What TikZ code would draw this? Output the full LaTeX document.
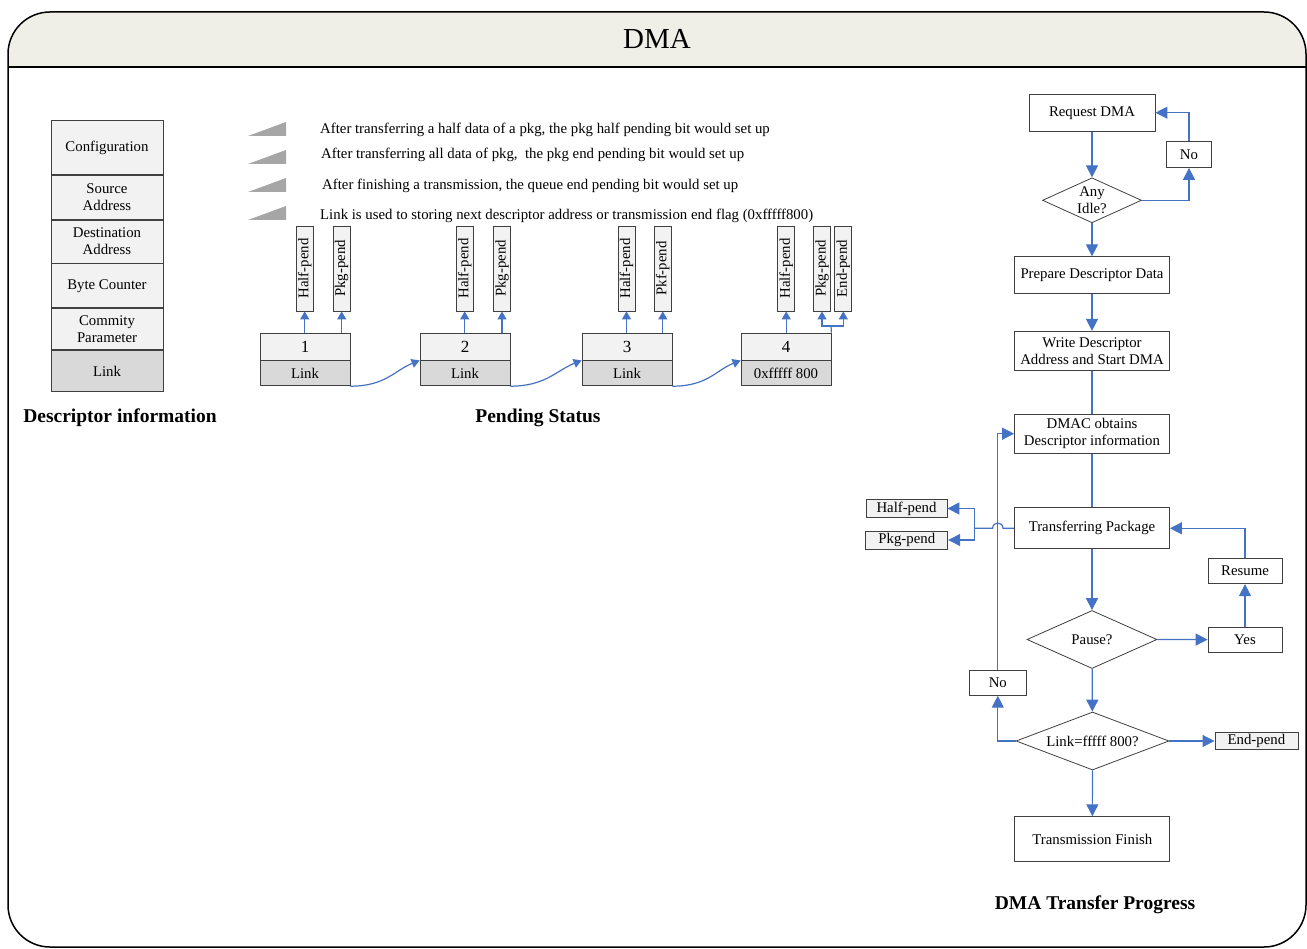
\documentclass[tikz,border=0pt]{standalone}
\usepackage{fontspec}
\setmainfont{Liberation Serif}
\usetikzlibrary{positioning}
\usetikzlibrary{arrows.meta}
\usetikzlibrary{shapes.geometric}

\definecolor{lineblue}{RGB}{68,114,196}
\definecolor{boxgray}{RGB}{242,242,242}
\definecolor{linkgray}{RGB}{217,217,217}
\definecolor{headfill}{RGB}{239,239,232}
\definecolor{edgegray}{RGB}{64,64,64}
\definecolor{wedgegray}{RGB}{166,166,166}

\tikzset{
    cell/.style={draw=edgegray, line width=0.8pt, fill=boxgray, minimum width=112pt, inner sep=0pt, align=center},
    numbox/.style={draw=edgegray, line width=0.8pt, fill=boxgray, minimum width=90pt, minimum height=27pt, inner sep=0pt,
        font=\fontsize{17pt}{19pt}\selectfont},
    linkbox/.style={draw=edgegray, line width=0.8pt, fill=linkgray, minimum width=90pt, minimum height=25pt, inner sep=0pt},
    pendbox/.style={draw=edgegray, line width=0.8pt, fill=boxgray, minimum width=17pt, minimum height=85pt, inner sep=0pt},
    fbox/.style={draw=edgegray, line width=0.8pt, fill=white, inner sep=0pt, align=center},
    gbox/.style={draw=edgegray, line width=0.8pt, fill=boxgray, inner sep=0pt, minimum height=18pt},
    decide/.style={draw=edgegray, line width=0.8pt, diamond, inner sep=0pt, align=center},
    note/.style={anchor=west, inner sep=0pt},
    heading/.style={font=\bfseries\fontsize{19.5pt}{22pt}\selectfont},
    line/.style={draw=lineblue, line width=1.2pt},
    flow/.style={line, -{Triangle[length=12pt,width=12pt]}},
    smallflow/.style={line, -{Triangle[length=8pt,width=9pt]}},
}

\begin{document}
\begin{tikzpicture}[x=1pt, y=-1pt, font=\fontsize{14.8pt}{17pt}\selectfont]
    \useasboundingbox (0,0) rectangle (1307,949);

    % frame and header
    \fill[headfill, rounded corners=45pt] (8,67) -- (8,12) -- (1306,12) -- (1306,67);
    \draw[line width=1.5pt, rounded corners=42pt] (8,12) rectangle (1306,947);
    \draw[line width=1.5pt] (8,67) -- (1306,67);
    \node(title) at (657,39) {\fontsize{29pt}{32pt}\selectfont DMA};

    % descriptor information
    \node(cfg) [cell, minimum height=54pt, anchor=north] at (107,120) {Configuration};
    \node(src) [cell, minimum height=44pt, below=0pt of cfg] {Source\\Address};
    \node(dst) [cell, minimum height=43pt, below=0pt of src] {Destination\\Address};
    \node(cnt) [cell, minimum height=44pt, below=0pt of dst] {Byte Counter};
    \node(cpar) [cell, minimum height=41pt, below=0pt of cnt] {Commity\\Parameter};
    \node(lnk) [cell, fill=linkgray, minimum height=41pt, below=0pt of cpar] {Link};
    \node(dtitle) [heading] at (120,418) {Descriptor information};

    % notes
    \fill[wedgegray] (248,136) -- (286,122) -- (286,136) -- cycle;
    \fill[wedgegray] (248,164) -- (286,150) -- (286,164) -- cycle;
    \fill[wedgegray] (248,192) -- (286,178) -- (286,192) -- cycle;
    \fill[wedgegray] (248,220) -- (286,206) -- (286,220) -- cycle;
    \node(t1) [note] at (320,129.5) {After transferring a half data of a pkg, the pkg half pending bit would set up};
    \node(t2) [note] at (321,154.5) {After transferring all data of pkg,~ the pkg end pending bit would set up};
    \node(t3) [note] at (322,185.5) {After finishing a transmission, the queue end pending bit would set up};
    \node(t4) [note] at (320,215.5) {Link is used to storing next descriptor address or transmission end flag (0xfffff800)};

    % pending status
    \node(num1) [numbox] at (305,346.5) {1};
    \node(lk1) [linkbox, below=0pt of num1] {Link};
    \node(num2) [numbox] at (465,346.5) {2};
    \node(lk2) [linkbox, below=0pt of num2] {Link};
    \node(num3) [numbox] at (627,346.5) {3};
    \node(lk3) [linkbox, below=0pt of num3] {Link};
    \node(num4) [numbox] at (786,346.5) {4};
    \node(lk4) [linkbox, below=0pt of num4] {0xfffff 800};

    \node(h1) [pendbox] at (304.7,268.5) {\rotatebox{90}{Half-pend}};
    \node(p1) [pendbox] at (341.7,268.5) {\rotatebox{90}{Pkg-pend}};
    \node(h2) [pendbox] at (464.7,268.5) {\rotatebox{90}{Half-pend}};
    \node(p2) [pendbox] at (502,268.5) {\rotatebox{90}{Pkg-pend}};
    \node(h3) [pendbox] at (626.5,268.5) {\rotatebox{90}{Half-pend}};
    \node(p3) [pendbox] at (662.8,268.5) {\rotatebox{90}{Pkf-pend}};
    \node(h4) [pendbox] at (786.2,268.5) {\rotatebox{90}{Half-pend}};
    \node(p4) [pendbox] at (822,268.5) {\rotatebox{90}{Pkg-pend}};
    \node(e4) [pendbox] at (843.3,268.5) {\rotatebox{90}{End-pend}};

    \draw[smallflow] (h1.south |- num1.north) -- (h1.south);
    \draw[smallflow] (p1.south |- num1.north) -- (p1.south);
    \draw[smallflow] (h2.south |- num2.north) -- (h2.south);
    \draw[smallflow] (p2.south |- num2.north) -- (p2.south);
    \draw[smallflow] (h3.south |- num3.north) -- (h3.south);
    \draw[smallflow] (p3.south |- num3.north) -- (p3.south);
    \draw[smallflow] (h4.south |- num4.north) -- (h4.south);
    \coordinate(j4) at (831,326);
    \draw[line] (num4.north east) -- (j4);
    \draw[smallflow] (j4) -| (p4.south);
    \draw[smallflow] (j4) -| (e4.south);

    \draw[smallflow] (lk1.south east) .. controls +(35,0) and +(-25,10) .. (num2.south west);
    \draw[smallflow] (lk2.south east) .. controls +(35,0) and +(-25,10) .. (num3.south west);
    \draw[smallflow] (lk3.south east) .. controls +(35,0) and +(-25,10) .. (num4.south west);
    \node(ptitle) [heading] at (538,418) {Pending Status};

    % transfer progress
    \node(req) [fbox, minimum width=126pt, minimum height=37pt] at (1092,112.7) {Request DMA};
    \node(no1) [fbox, minimum width=45pt, minimum height=26pt] at (1189,154.5) {No};
    \node(idle) [decide, minimum width=99pt, minimum height=45pt, aspect=2.2] at (1092,200.3)
        {\fontsize{14.8pt}{16pt}\selectfont Any\\Idle?};
    \node(prep) [fbox, minimum width=155pt, minimum height=37pt] at (1092,275.3) {Prepare Descriptor Data};
    \node(wrt) [fbox, minimum width=155pt, minimum height=39pt] at (1092,350.8) {Write Descriptor\\Address and Start DMA};
    \node(dmac) [fbox, minimum width=155pt, minimum height=39pt] at (1092,433.7) {DMAC obtains\\Descriptor information};
    \node(xfer) [fbox, minimum width=155pt, minimum height=41pt] at (1092,528.3) {Transferring Package};
    \node(hp) [gbox, minimum width=81pt] at (906.5,508.5) {Half-pend};
    \node(pp) [gbox, minimum width=82pt] at (906.8,540) {Pkg-pend};
    \node(res) [fbox, minimum width=74pt, minimum height=25pt] at (1245,571.2) {Resume};
    \node(pause) [decide, minimum width=130pt, minimum height=58pt, aspect=2.24] at (1092,639.5) {Pause?};
    \node(yes) [fbox, minimum width=74pt, minimum height=25pt] at (1245,639.6) {Yes};
    \node(no2) [fbox, minimum width=57pt, minimum height=25pt] at (997.8,682.8) {No};
    \node(lchk) [decide, minimum width=153pt, minimum height=58pt, aspect=2.64] at (1092.5,741) {Link=fffff 800?};
    \node(endp) [gbox, minimum width=83pt, minimum height=17.5pt] at (1256.4,741) {End-pend};
    \node(fin) [fbox, minimum width=155pt, minimum height=45pt] at (1092.3,839.2) {Transmission Finish};
    \node(ftitle) [heading] at (1095,905) {DMA Transfer Progress};

    \draw[flow] (req) -- (idle);
    \draw[flow] (idle.east) -| (no1.south);
    \draw[flow] (no1.north) |- (req.east);
    \draw[flow] (idle) -- (prep);
    \draw[flow] (prep) -- (wrt);
    \draw[line] (wrt) -- (dmac);
    \draw[line] (dmac) -- (xfer);

    \coordinate(hopR) at (1003,528.3);
    \coordinate(hopL) at (992.6,528.3);
    \coordinate(fork) at (974.3,528.3);
    \draw[line] (xfer.west) -- (hopR) .. controls +(0,-7) and +(0,-7) .. (hopL) -- (fork);
    \draw[flow] (fork) |- (hp.east);
    \draw[flow] (fork) |- (pp.east);

    \draw[flow] (res.north) |- (xfer.east);
    \draw[flow] (xfer) -- (pause);
    \draw[flow] (pause.east) -- (yes.west);
    \draw[flow] (yes) -- (res);
    \draw[flow] (pause) -- (lchk);
    \draw[flow] (lchk.west) -| (no2.south);
    \draw[flow] (no2.north) |- (dmac.west);
    \draw[flow] (lchk.east) -- (endp.west);
    \draw[flow] (lchk) -- (fin);
\end{tikzpicture}
\end{document}
